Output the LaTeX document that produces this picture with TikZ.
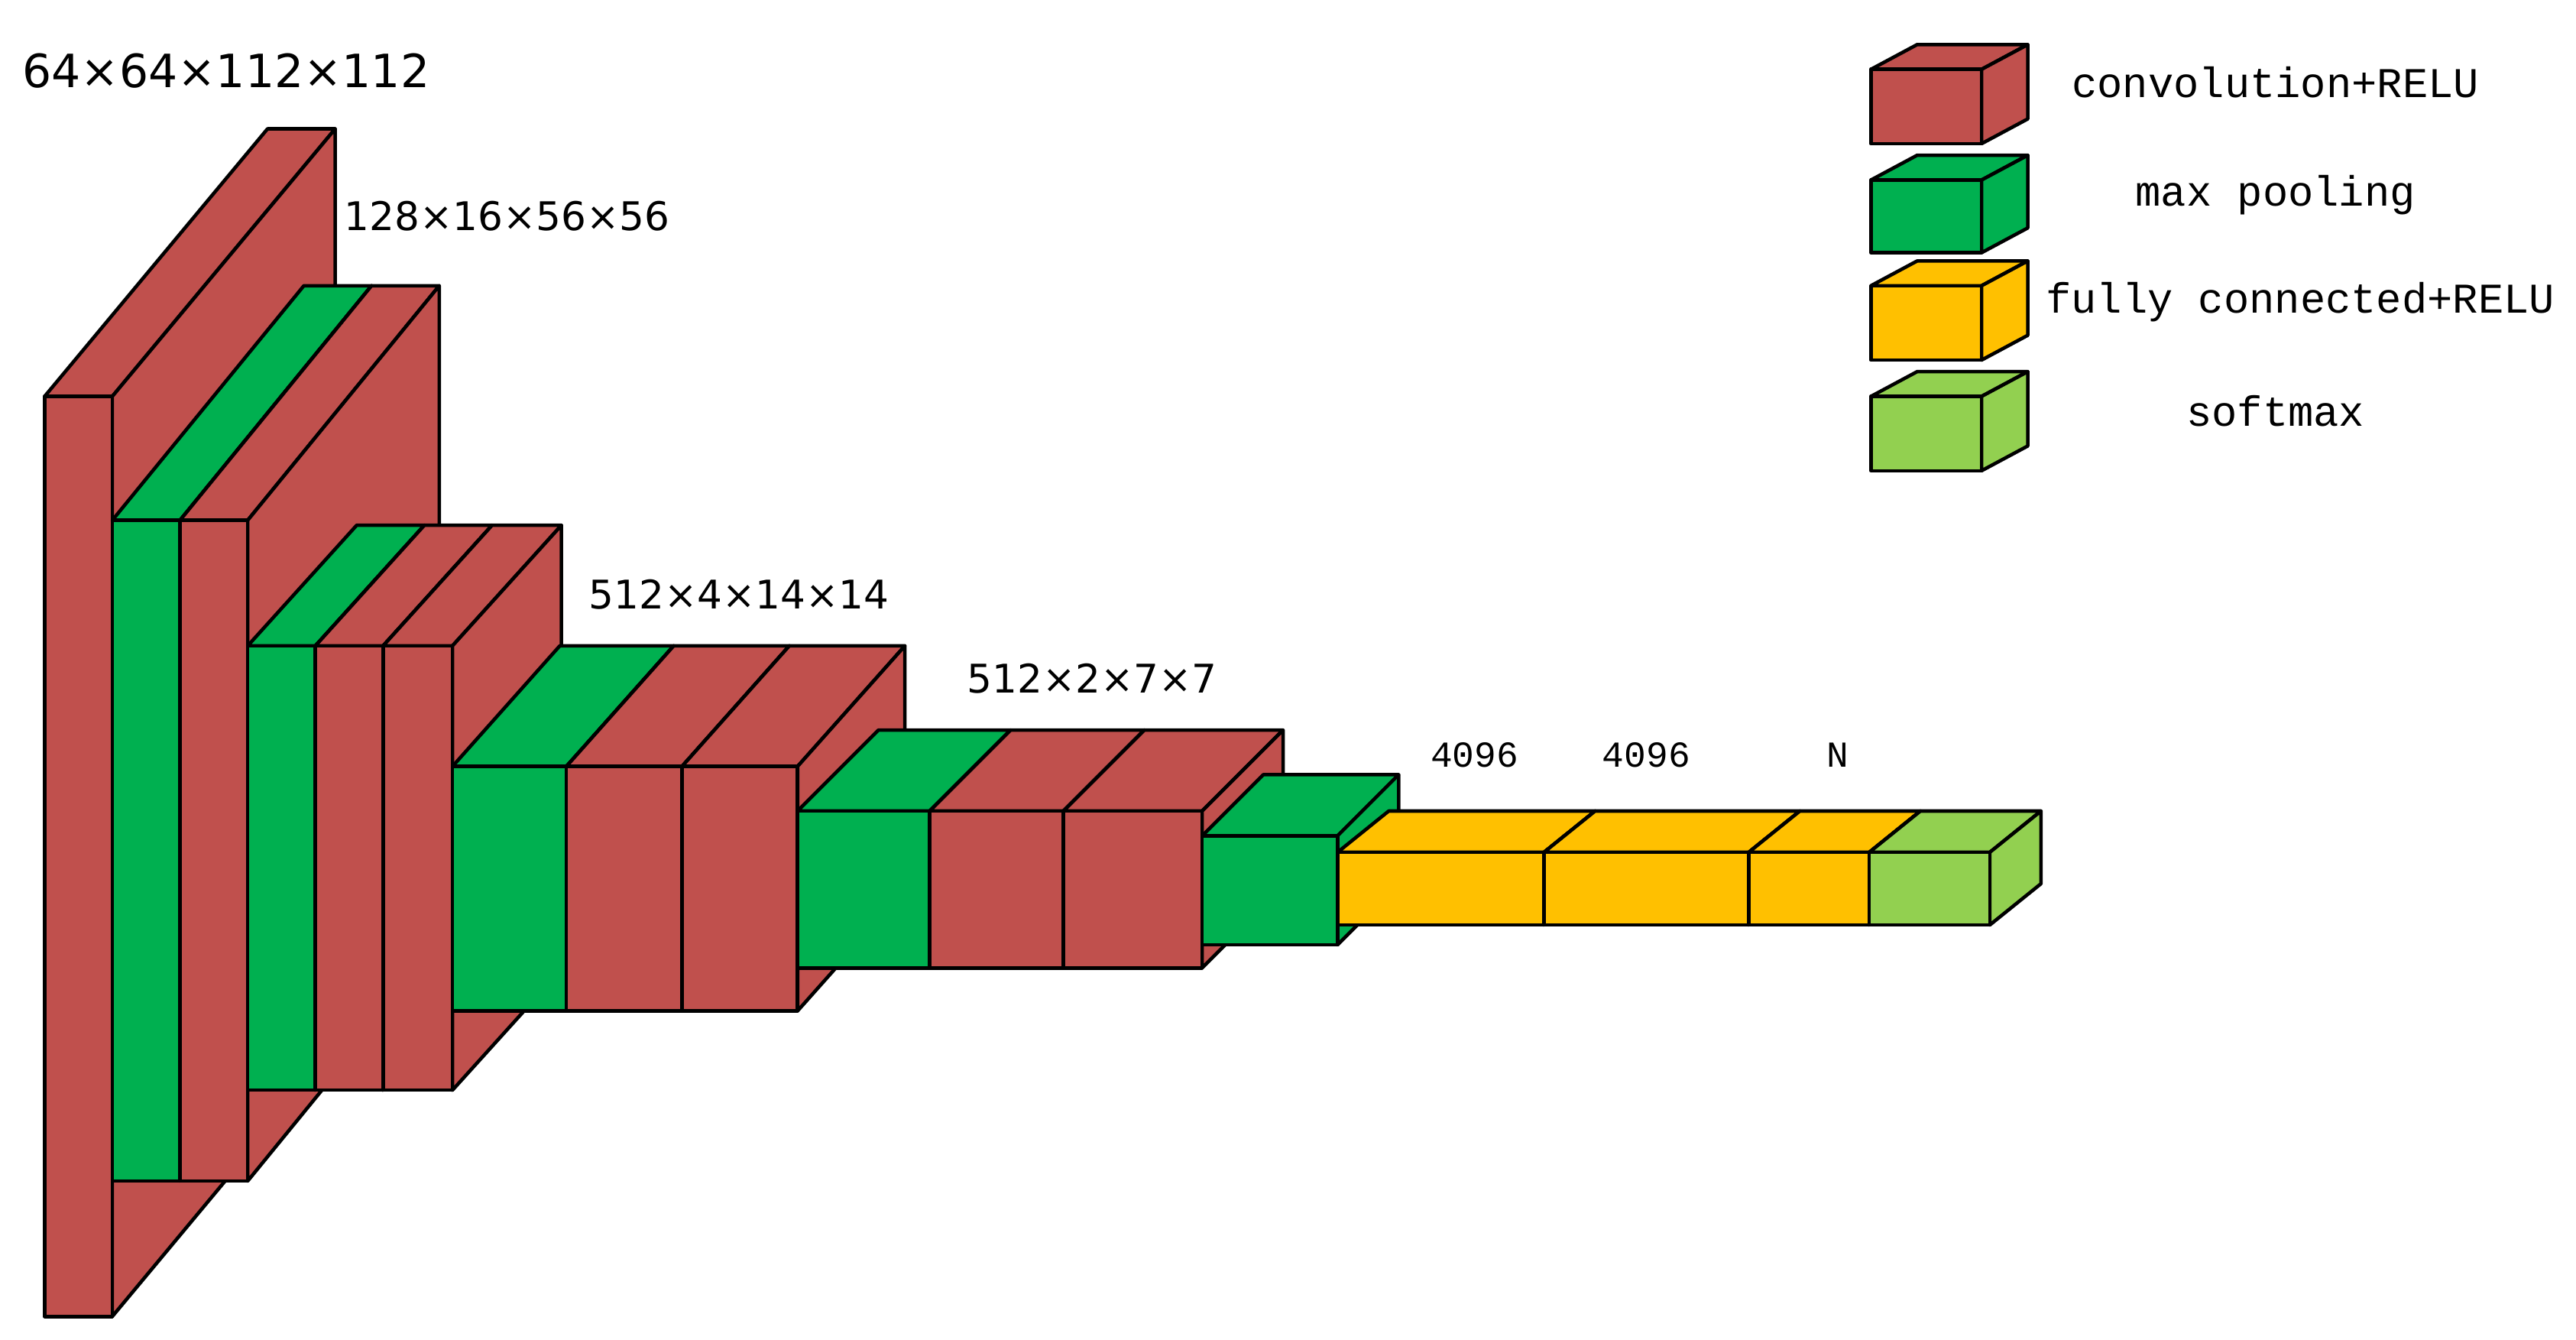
\documentclass[tikz,border=0pt]{standalone}
\usepackage{fontspec}
\setmainfont{DejaVu Sans}
\newfontfamily\legfont{Liberation Mono}
\definecolor{conv}{HTML}{C0504D}
\definecolor{pool}{HTML}{00B050}
\definecolor{fc}{HTML}{FFC000}
\definecolor{soft}{HTML}{92D050}
\newcommand{\slab}[7]{%
 \filldraw[fill=#7,edge] (#1,#3) -- (#1+#5,#3-#6) -- (#2+#5,#3-#6) -- (#2,#3) -- cycle;
 \filldraw[fill=#7,edge] (#2,#3) -- (#2+#5,#3-#6) -- (#2+#5,#4-#6) -- (#2,#4) -- cycle;
 \filldraw[fill=#7,edge] (#1,#3) rectangle (#2,#4);}
\begin{document}
\begin{tikzpicture}[x=0.01cm,y=-0.01cm,
 edge/.style={draw=black,line width=0.6pt,line join=round},
 dimlab/.style={anchor=west,inner sep=0,font=\fontsize{6.8}{8}\selectfont},
 leglab/.style={inner sep=0,font=\legfont\fontsize{7.3}{9}\selectfont}]
\useasboundingbox (0,0) rectangle (1560,811.2);
% block 1
\slab{27}{68}{240}{797}{135}{162}{conv}
% block 2
\slab{68}{109}{315}{715}{116}{142}{pool}
\slab{109}{150}{315}{715}{116}{142}{conv}
% block 3
\slab{150}{191}{391}{660}{66}{73}{pool}
\slab{191}{232}{391}{660}{66}{73}{conv}
\slab{232}{274}{391}{660}{66}{73}{conv}
% block 4
\slab{274}{343}{464}{612}{65}{73}{pool}
\slab{343}{413}{464}{612}{65}{73}{conv}
\slab{413}{483}{464}{612}{65}{73}{conv}
% block 5
\slab{483}{563}{491}{586}{49}{49}{pool}
\slab{563}{644}{491}{586}{49}{49}{conv}
\slab{644}{728}{491}{586}{49}{49}{conv}
% block 6
\slab{728}{810}{506}{572}{37}{37}{pool}
% fully connected
\slab{810}{935}{516}{560}{31}{25}{fc}
\slab{935}{1059}{516}{560}{31}{25}{fc}
\slab{1059}{1132}{516}{560}{31}{25}{fc}
\slab{1132}{1205}{516}{560}{31}{25}{soft}
% labels
\node[dimlab,font=\fontsize{7.9}{9}\selectfont] (l1) at (13,43) {64×64×112×112};
\node[dimlab] (l2) at (208,131) {128×16×56×56};
\node[dimlab] (l3) at (356,360) {512×4×14×14};
\node[dimlab] (l4) at (585,411) {512×2×7×7};
\node[leglab,font=\legfont\fontsize{6.3}{8}\selectfont] (f1) at (893,457) {4096};
\node[leglab,font=\legfont\fontsize{6.3}{8}\selectfont] (f2) at (997,457) {4096};
\node[leglab,font=\legfont\fontsize{6.3}{8}\selectfont] (f3) at (1113,457) {N};
% legend
\slab{1133}{1200}{42}{87}{28}{15}{conv}
\slab{1133}{1200}{109}{153}{28}{15}{pool}
\slab{1133}{1200}{173}{218}{28}{15}{fc}
\slab{1133}{1200}{240}{285}{28}{15}{soft}
\node[leglab] (g1) at (1378,50) {convolution+RELU};
\node[leglab] (g2) at (1378,118) {max pooling};
\node[leglab] (g3) at (1393,183) {fully connected+RELU};
\node[leglab] (g4) at (1378,249) {softmax};
\end{tikzpicture}
\end{document}
